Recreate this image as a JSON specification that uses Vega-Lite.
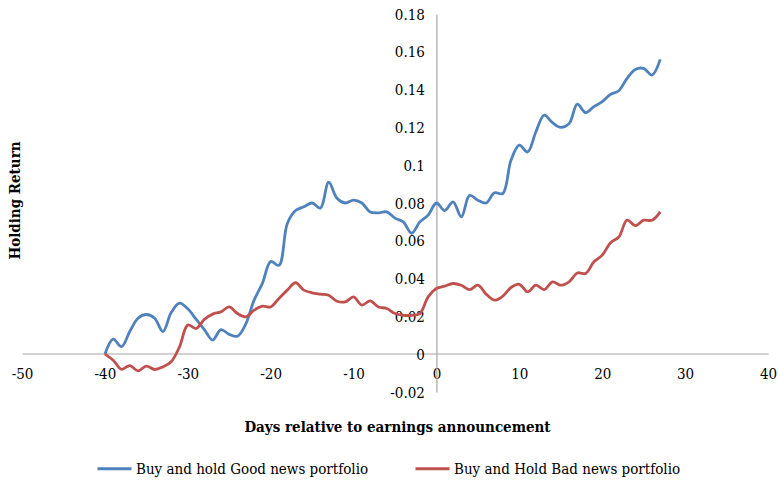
{
  "$schema": "https://vega.github.io/schema/vega-lite/v6.json",
  "autosize": "none",
  "padding": {"left": 22, "top": 14, "right": 10, "bottom": 92},
  "width": 746,
  "height": 378,
  "config": {
    "view": {"stroke": null},
    "font": "DejaVu Serif Condensed",
    "axis": {"labelFont": "DejaVu Serif Condensed", "titleFont": "DejaVu Serif Condensed", "labelColor": "#000", "titleColor": "#000", "grid": false}
  },
  "data": {"values": [
    {"day": -40, "s": "Buy and hold Good news portfolio", "v": 0},
    {"day": -39, "s": "Buy and hold Good news portfolio", "v": 0.008},
    {"day": -38, "s": "Buy and hold Good news portfolio", "v": 0.004},
    {"day": -37, "s": "Buy and hold Good news portfolio", "v": 0.012},
    {"day": -36, "s": "Buy and hold Good news portfolio", "v": 0.019},
    {"day": -35, "s": "Buy and hold Good news portfolio", "v": 0.021},
    {"day": -34, "s": "Buy and hold Good news portfolio", "v": 0.019},
    {"day": -33, "s": "Buy and hold Good news portfolio", "v": 0.012},
    {"day": -32, "s": "Buy and hold Good news portfolio", "v": 0.022},
    {"day": -31, "s": "Buy and hold Good news portfolio", "v": 0.027},
    {"day": -30, "s": "Buy and hold Good news portfolio", "v": 0.024},
    {"day": -29, "s": "Buy and hold Good news portfolio", "v": 0.0185},
    {"day": -28, "s": "Buy and hold Good news portfolio", "v": 0.013},
    {"day": -27, "s": "Buy and hold Good news portfolio", "v": 0.0075},
    {"day": -26, "s": "Buy and hold Good news portfolio", "v": 0.013},
    {"day": -25, "s": "Buy and hold Good news portfolio", "v": 0.0105},
    {"day": -24, "s": "Buy and hold Good news portfolio", "v": 0.0095},
    {"day": -23, "s": "Buy and hold Good news portfolio", "v": 0.016},
    {"day": -22, "s": "Buy and hold Good news portfolio", "v": 0.0286},
    {"day": -21, "s": "Buy and hold Good news portfolio", "v": 0.0375},
    {"day": -20, "s": "Buy and hold Good news portfolio", "v": 0.049},
    {"day": -19, "s": "Buy and hold Good news portfolio", "v": 0.047},
    {"day": -18, "s": "Buy and hold Good news portfolio", "v": 0.069},
    {"day": -17, "s": "Buy and hold Good news portfolio", "v": 0.076},
    {"day": -16, "s": "Buy and hold Good news portfolio", "v": 0.078},
    {"day": -15, "s": "Buy and hold Good news portfolio", "v": 0.080},
    {"day": -14, "s": "Buy and hold Good news portfolio", "v": 0.0773},
    {"day": -13, "s": "Buy and hold Good news portfolio", "v": 0.091},
    {"day": -12, "s": "Buy and hold Good news portfolio", "v": 0.0825},
    {"day": -11, "s": "Buy and hold Good news portfolio", "v": 0.080},
    {"day": -10, "s": "Buy and hold Good news portfolio", "v": 0.0815},
    {"day": -9, "s": "Buy and hold Good news portfolio", "v": 0.080},
    {"day": -8, "s": "Buy and hold Good news portfolio", "v": 0.0753},
    {"day": -7, "s": "Buy and hold Good news portfolio", "v": 0.0748},
    {"day": -6, "s": "Buy and hold Good news portfolio", "v": 0.0753},
    {"day": -5, "s": "Buy and hold Good news portfolio", "v": 0.072},
    {"day": -4, "s": "Buy and hold Good news portfolio", "v": 0.070},
    {"day": -3, "s": "Buy and hold Good news portfolio", "v": 0.064},
    {"day": -2, "s": "Buy and hold Good news portfolio", "v": 0.070},
    {"day": -1, "s": "Buy and hold Good news portfolio", "v": 0.0736},
    {"day": 0, "s": "Buy and hold Good news portfolio", "v": 0.080},
    {"day": 1, "s": "Buy and hold Good news portfolio", "v": 0.076},
    {"day": 2, "s": "Buy and hold Good news portfolio", "v": 0.0806},
    {"day": 3, "s": "Buy and hold Good news portfolio", "v": 0.0727},
    {"day": 4, "s": "Buy and hold Good news portfolio", "v": 0.084},
    {"day": 5, "s": "Buy and hold Good news portfolio", "v": 0.0815},
    {"day": 6, "s": "Buy and hold Good news portfolio", "v": 0.080},
    {"day": 7, "s": "Buy and hold Good news portfolio", "v": 0.0854},
    {"day": 8, "s": "Buy and hold Good news portfolio", "v": 0.085},
    {"day": 9, "s": "Buy and hold Good news portfolio", "v": 0.1027},
    {"day": 10, "s": "Buy and hold Good news portfolio", "v": 0.1106},
    {"day": 11, "s": "Buy and hold Good news portfolio", "v": 0.107},
    {"day": 12, "s": "Buy and hold Good news portfolio", "v": 0.1177},
    {"day": 13, "s": "Buy and hold Good news portfolio", "v": 0.1265},
    {"day": 14, "s": "Buy and hold Good news portfolio", "v": 0.1225},
    {"day": 15, "s": "Buy and hold Good news portfolio", "v": 0.120},
    {"day": 16, "s": "Buy and hold Good news portfolio", "v": 0.122},
    {"day": 17, "s": "Buy and hold Good news portfolio", "v": 0.1323},
    {"day": 18, "s": "Buy and hold Good news portfolio", "v": 0.1278},
    {"day": 19, "s": "Buy and hold Good news portfolio", "v": 0.131},
    {"day": 20, "s": "Buy and hold Good news portfolio", "v": 0.1336},
    {"day": 21, "s": "Buy and hold Good news portfolio", "v": 0.1375},
    {"day": 22, "s": "Buy and hold Good news portfolio", "v": 0.1394},
    {"day": 23, "s": "Buy and hold Good news portfolio", "v": 0.146},
    {"day": 24, "s": "Buy and hold Good news portfolio", "v": 0.1507},
    {"day": 25, "s": "Buy and hold Good news portfolio", "v": 0.1512},
    {"day": 26, "s": "Buy and hold Good news portfolio", "v": 0.1477},
    {"day": 27, "s": "Buy and hold Good news portfolio", "v": 0.156},
    {"day": -40, "s": "Buy and Hold Bad news portfolio", "v": 0},
    {"day": -39, "s": "Buy and Hold Bad news portfolio", "v": -0.0032},
    {"day": -38, "s": "Buy and Hold Bad news portfolio", "v": -0.008},
    {"day": -37, "s": "Buy and Hold Bad news portfolio", "v": -0.006},
    {"day": -36, "s": "Buy and Hold Bad news portfolio", "v": -0.0088},
    {"day": -35, "s": "Buy and Hold Bad news portfolio", "v": -0.0063},
    {"day": -34, "s": "Buy and Hold Bad news portfolio", "v": -0.0081},
    {"day": -33, "s": "Buy and Hold Bad news portfolio", "v": -0.0067},
    {"day": -32, "s": "Buy and Hold Bad news portfolio", "v": -0.004},
    {"day": -31, "s": "Buy and Hold Bad news portfolio", "v": 0.0039},
    {"day": -30, "s": "Buy and Hold Bad news portfolio", "v": 0.0154},
    {"day": -29, "s": "Buy and Hold Bad news portfolio", "v": 0.0136},
    {"day": -28, "s": "Buy and Hold Bad news portfolio", "v": 0.0184},
    {"day": -27, "s": "Buy and Hold Bad news portfolio", "v": 0.0212},
    {"day": -26, "s": "Buy and Hold Bad news portfolio", "v": 0.0224},
    {"day": -25, "s": "Buy and Hold Bad news portfolio", "v": 0.025},
    {"day": -24, "s": "Buy and Hold Bad news portfolio", "v": 0.0215},
    {"day": -23, "s": "Buy and Hold Bad news portfolio", "v": 0.0198},
    {"day": -22, "s": "Buy and Hold Bad news portfolio", "v": 0.0233},
    {"day": -21, "s": "Buy and Hold Bad news portfolio", "v": 0.0254},
    {"day": -20, "s": "Buy and Hold Bad news portfolio", "v": 0.025},
    {"day": -19, "s": "Buy and Hold Bad news portfolio", "v": 0.0295},
    {"day": -18, "s": "Buy and Hold Bad news portfolio", "v": 0.0339},
    {"day": -17, "s": "Buy and Hold Bad news portfolio", "v": 0.0378},
    {"day": -16, "s": "Buy and Hold Bad news portfolio", "v": 0.0339},
    {"day": -15, "s": "Buy and Hold Bad news portfolio", "v": 0.0325},
    {"day": -14, "s": "Buy and Hold Bad news portfolio", "v": 0.0318},
    {"day": -13, "s": "Buy and Hold Bad news portfolio", "v": 0.0312},
    {"day": -12, "s": "Buy and Hold Bad news portfolio", "v": 0.028},
    {"day": -11, "s": "Buy and Hold Bad news portfolio", "v": 0.0277},
    {"day": -10, "s": "Buy and Hold Bad news portfolio", "v": 0.0303},
    {"day": -9, "s": "Buy and Hold Bad news portfolio", "v": 0.026},
    {"day": -8, "s": "Buy and Hold Bad news portfolio", "v": 0.0282},
    {"day": -7, "s": "Buy and Hold Bad news portfolio", "v": 0.025},
    {"day": -6, "s": "Buy and Hold Bad news portfolio", "v": 0.0242},
    {"day": -5, "s": "Buy and Hold Bad news portfolio", "v": 0.0215},
    {"day": -4, "s": "Buy and Hold Bad news portfolio", "v": 0.0206},
    {"day": -3, "s": "Buy and Hold Bad news portfolio", "v": 0.0206},
    {"day": -2, "s": "Buy and Hold Bad news portfolio", "v": 0.0215},
    {"day": -1, "s": "Buy and Hold Bad news portfolio", "v": 0.0303},
    {"day": 0, "s": "Buy and Hold Bad news portfolio", "v": 0.0348},
    {"day": 1, "s": "Buy and Hold Bad news portfolio", "v": 0.036},
    {"day": 2, "s": "Buy and Hold Bad news portfolio", "v": 0.0374},
    {"day": 3, "s": "Buy and Hold Bad news portfolio", "v": 0.0365},
    {"day": 4, "s": "Buy and Hold Bad news portfolio", "v": 0.0342},
    {"day": 5, "s": "Buy and Hold Bad news portfolio", "v": 0.0365},
    {"day": 6, "s": "Buy and Hold Bad news portfolio", "v": 0.0318},
    {"day": 7, "s": "Buy and Hold Bad news portfolio", "v": 0.0286},
    {"day": 8, "s": "Buy and Hold Bad news portfolio", "v": 0.0307},
    {"day": 9, "s": "Buy and Hold Bad news portfolio", "v": 0.0353},
    {"day": 10, "s": "Buy and Hold Bad news portfolio", "v": 0.037},
    {"day": 11, "s": "Buy and Hold Bad news portfolio", "v": 0.033},
    {"day": 12, "s": "Buy and Hold Bad news portfolio", "v": 0.0365},
    {"day": 13, "s": "Buy and Hold Bad news portfolio", "v": 0.0342},
    {"day": 14, "s": "Buy and Hold Bad news portfolio", "v": 0.0383},
    {"day": 15, "s": "Buy and Hold Bad news portfolio", "v": 0.0365},
    {"day": 16, "s": "Buy and Hold Bad news portfolio", "v": 0.0383},
    {"day": 17, "s": "Buy and Hold Bad news portfolio", "v": 0.043},
    {"day": 18, "s": "Buy and Hold Bad news portfolio", "v": 0.0427},
    {"day": 19, "s": "Buy and Hold Bad news portfolio", "v": 0.0489},
    {"day": 20, "s": "Buy and Hold Bad news portfolio", "v": 0.0524},
    {"day": 21, "s": "Buy and Hold Bad news portfolio", "v": 0.059},
    {"day": 22, "s": "Buy and Hold Bad news portfolio", "v": 0.062},
    {"day": 23, "s": "Buy and Hold Bad news portfolio", "v": 0.0709},
    {"day": 24, "s": "Buy and Hold Bad news portfolio", "v": 0.068},
    {"day": 25, "s": "Buy and Hold Bad news portfolio", "v": 0.0709},
    {"day": 26, "s": "Buy and Hold Bad news portfolio", "v": 0.0709},
    {"day": 27, "s": "Buy and Hold Bad news portfolio", "v": 0.0753}
  ]},
  "mark": {"type": "line", "interpolate": "catmull-rom", "strokeWidth": 2.8, "clip": false},
  "encoding": {
    "x": {
      "field": "day", "type": "quantitative",
      "scale": {"domain": [-50, 40], "nice": false, "zero": false},
      "axis": {
        "orient": "bottom", "offset": -38.5, "values": [-50, -40, -30, -20, -10, 0, 10, 20, 30, 40],
        "labelExpr": "'' + datum.value", "ticks": false, "domainColor": "#a6a6a6", "domainWidth": 1.2,
        "labelFontSize": 15, "labelPadding": 13, "labelFlush": false,
        "title": "Days relative to earnings announcement", "titleFontSize": 15, "titleFontWeight": "bold",
        "titleX": 375, "titleY": 73, "titleBaseline": "middle", "titleAnchor": null
      }
    },
    "y": {
      "field": "v", "type": "quantitative",
      "scale": {"domain": [-0.02, 0.18], "nice": false, "zero": false},
      "axis": {
        "orient": "left", "offset": -414.4, "values": [-0.02, 0, 0.02, 0.04, 0.06, 0.08, 0.1, 0.12, 0.14, 0.16, 0.18],
        "labelExpr": "'' + datum.value", "ticks": false, "domainColor": "#a6a6a6", "domainWidth": 1.2,
        "labelFontSize": 15, "labelPadding": 12, "labelFlush": false,
        "title": "Holding Return", "titleFontSize": 15, "titleFontWeight": "bold",
        "titleX": -422.4, "titleY": 186, "titleAngle": -90, "titleBaseline": "middle", "titleAnchor": null
      }
    },
    "color": {
      "field": "s", "type": "nominal",
      "scale": {"domain": ["Buy and hold Good news portfolio", "Buy and Hold Bad news portfolio"], "range": ["#4F81BD", "#C0504D"]},
      "legend": {
        "title": null, "orient": "none", "legendX": 74, "legendY": 436, "direction": "horizontal",
        "symbolType": "M-1,0H1", "symbolSize": 1156, "symbolStrokeWidth": 3, "labelFontSize": 15,
        "labelFont": "DejaVu Serif Condensed", "labelColor": "#000", "columnPadding": 40, "labelOffset": 3, "labelLimit": 400
      }
    }
  }
}
